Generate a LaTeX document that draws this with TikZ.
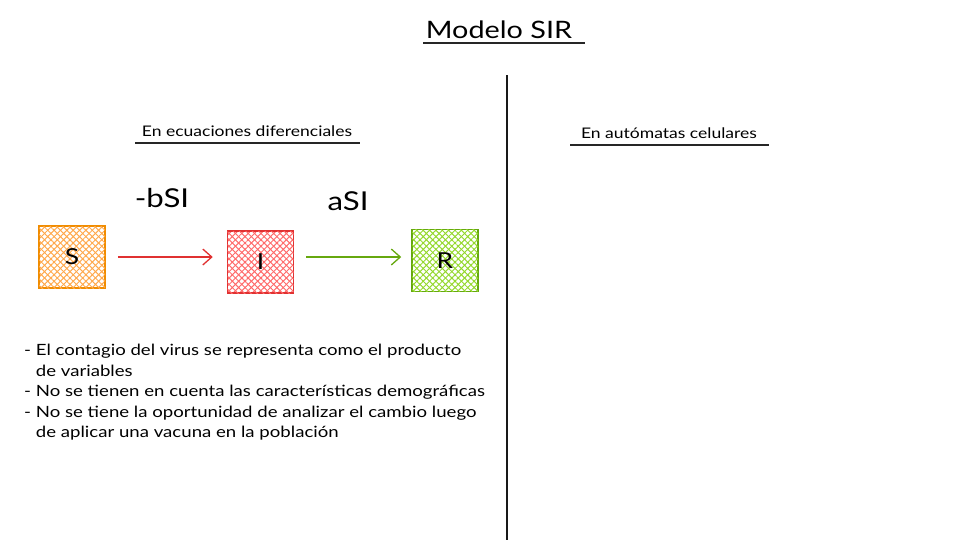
\documentclass[tikz,border=0pt]{standalone}
\usepackage{fontspec}
\setmainfont{Lato}[FakeStretch=1.2]
\usetikzlibrary{patterns.meta,arrows.meta}
\definecolor{sorange}{HTML}{F08C00}
\definecolor{sorangef}{HTML}{FFA94D}
\definecolor{ired}{HTML}{E03131}
\definecolor{iredf}{HTML}{FF6B6B}
\definecolor{rgreen}{HTML}{66A80F}
\definecolor{rgreenf}{HTML}{94D82D}
\tikzset{
  every node/.style={inner sep=0pt},
  title/.style={font=\fontsize{24}{28}\selectfont},
  heading/.style={font=\fontsize{14.6}{18}\selectfont},
  label/.style={font=\fontsize{26}{30}\selectfont},
  boxtext/.style={font=\fontsize{22}{26}\selectfont},
  bodytext/.style={font=\fontsize{15.5}{20.5}\selectfont, align=left, anchor=north west},
  uline/.style={line width=2pt, black!85},
  hatchbox/.style args={#1/#2}{draw=#1, line width=1.5pt, minimum width=66pt, minimum height=62pt,
    preaction={pattern={Lines[angle=45,distance=4.5pt,line width=1pt]}, pattern color=#2},
    postaction={pattern={Lines[angle=-45,distance=4.5pt,line width=1pt]}, pattern color=#2}},
  flow/.style={line width=1.3pt, -{Straight Barb[length=9pt,width=16pt]}}
}
\begin{document}
\begin{tikzpicture}[x=1pt,y=-1pt]
\useasboundingbox (0,0) rectangle (979,558);
% title
\node[title] (title) at (499,30) {Modelo SIR};
\coordinate (tl) at (423,43); \coordinate (tr) at (585,43);
\draw[uline] (tl) -- (tr);
% divider
\coordinate (dtop) at (507,75); \coordinate (dbot) at (507,540);
\draw[line width=2pt, black!90] (dtop) -- (dbot);
% headings
\node[heading] (h1) at (247,131) {En ecuaciones diferenciales};
\coordinate (h1l) at (135,143); \coordinate (h1r) at (360,143);
\draw[uline] (h1l) -- (h1r);
\node[heading] (h2) at (669,133) {En autómatas celulares};
\coordinate (h2l) at (570,145); \coordinate (h2r) at (769,145);
\draw[uline] (h2l) -- (h2r);
% boxes
\node[hatchbox=sorange/sorangef, boxtext] (S) at (72,257) {S};
\node[hatchbox=ired/iredf, boxtext] (I) at (260.5,262) {I};
\node[hatchbox=rgreen/rgreenf, boxtext] (R) at (445,260.5) {R};
% arrows
\draw[flow, ired] ([xshift=12pt]S.east |- 0,257) -- ([xshift=-14pt]I.west |- 0,257);
\draw[flow, rgreen] ([xshift=12pt]I.east |- 0,257) -- ([xshift=-10pt]R.west |- 0,257);
% labels
\node[label] (lb) at (162,198) {-bSI};
\node[label] (la) at (348,201) {aSI};
% notes
\node[bodytext] (notes) at (24,344) {- El contagio del virus se representa como el producto\\
\phantom{- }de variables\\
- No se tienen en cuenta las características demográficas\\
- No se tiene la oportunidad de analizar el cambio luego\\
\phantom{- }de aplicar una vacuna en la población};
\end{tikzpicture}
\end{document}
